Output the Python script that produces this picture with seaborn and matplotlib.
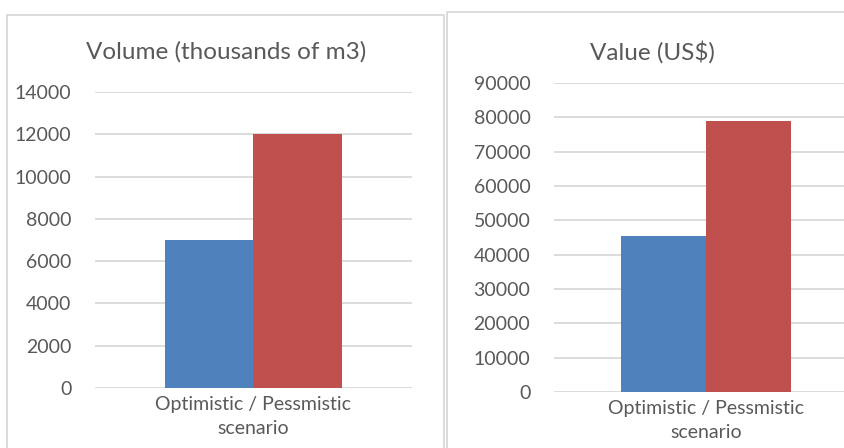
import pandas as pd
import matplotlib.pyplot as plt
import seaborn as sns
from matplotlib.patches import Rectangle

# -----------------------------
# Data
# -----------------------------
category = "Optimistic / Pessmistic\nscenario"
scenarios = ["Optimistic", "Pessimistic"]
volume = [7000, 12000]      # thousands of m3
value = [45300, 78900]      # US$
volume_ticks = list(range(0, 14001, 2000))
value_ticks = list(range(0, 90001, 10000))

colors = ["#4F81BD", "#C0504D"]
text_color = "#595959"
grid_color = "#D9D9D9"

df_volume = pd.DataFrame({"Category": category, "Scenario": scenarios, "Amount": volume})
df_value = pd.DataFrame({"Category": category, "Scenario": scenarios, "Amount": value})

# -----------------------------
# Style
# -----------------------------
sns.set_theme(style="white")
plt.rcParams["font.family"] = ["Lato", "DejaVu Sans"]

W, H = 845, 448
fig = plt.figure(figsize=(W / 100, H / 100), dpi=100)


def px_box(x0, y0, x1, y1):
    # pixel box (top-left origin) -> figure fraction [left, bottom, width, height]
    return [x0 / W, (H - y1) / H, (x1 - x0) / W, (y1 - y0) / H]


# panel frames, like two Excel chart objects
for x0, y0, x1, y1 in [(7, 15, 444, 460), (447, 12, 857, 460)]:
    l, b, w, h = px_box(x0, y0, x1, y1)
    fig.patches.append(Rectangle((l, b), w, h, transform=fig.transFigure,
                                 fill=False, edgecolor=grid_color, linewidth=1.3))

panels = [
    (df_volume, px_box(95, 92, 412, 388), volume_ticks, "Volume (thousands of m3)", 226),
    (df_value, px_box(554, 83, 858, 392), value_ticks, "Value (US$)", 652),
]

for data, box, ticks, title, title_x in panels:
    ax = fig.add_axes(box)
    sns.barplot(data=data, x="Category", y="Amount", hue="Scenario",
                palette=colors, width=0.56, gap=0, saturation=1,
                linewidth=0, edgecolor="none", legend=False, ax=ax)
    ax.set_xlim(-0.5, 0.5)
    ax.set_ylim(ticks[0], ticks[-1])
    ax.set_yticks(ticks)
    ax.set_yticklabels([str(t) for t in ticks])
    ax.yaxis.grid(True, color=grid_color, linewidth=1.3)
    ax.set_axisbelow(True)
    for s in ax.spines.values():
        s.set_visible(False)
    ax.tick_params(axis="y", length=0, pad=17, labelsize=14, labelcolor=text_color)
    ax.tick_params(axis="x", length=0, pad=6, labelsize=14, labelcolor=text_color)
    for lab in ax.get_xticklabels():
        lab.set_linespacing(1.45)
    ax.set_xlabel("")
    ax.set_ylabel("")
    fig.text(title_x / W, (H - 52) / H, title, ha="center", va="center",
             fontsize=17.5, color=text_color)

plt.savefig("out.png", dpi=100)
plt.close()
